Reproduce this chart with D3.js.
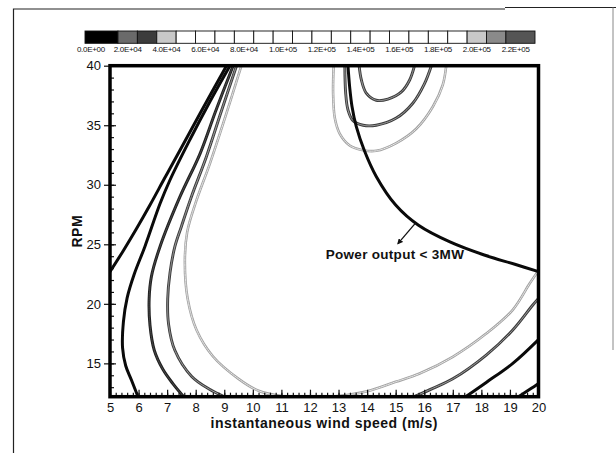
<!DOCTYPE html>
<html>
<head>
<meta charset="utf-8">
<script src="https://cdn.jsdelivr.net/npm/d3@7/dist/d3.min.js"></script>
<style>
  html, body { margin: 0; padding: 0; background: #fff; }
  svg { display: block; font-family: "Liberation Sans", Arial, sans-serif; }
</style>
</head>
<body>
<div id="chart"></div>
<script>
// ===========================
// Power contour map: RPM vs instantaneous wind speed
// ===========================

// axis ticks
const xTicks = [5, 6, 7, 8, 9, 10, 11, 12, 13, 14, 15, 16, 17, 18, 19, 20];
const yTicks = [15, 20, 25, 30, 35, 40];

// legend (colour bar)
const legendLabels = ['0.0E+00', '2.0E+04', '4.0E+04', '6.0E+04', '8.0E+04', '1.0E+05',
                      '1.2E+05', '1.4E+05', '1.6E+05', '1.8E+05', '2.0E+05', '2.2E+05'];
const legendLabelValues = [0, 2e4, 4e4, 6e4, 8e4, 1e5, 1.2e5, 1.4e5, 1.6e5, 1.8e5, 2e5, 2.2e5];
const legendBoxEdges = [-2e3, 1.5e4, 2.5e4, 3.5e4, 4.5e4, 5.5e4, 6.5e4, 7.5e4, 8.5e4, 9.5e4, 1.05e5,
                        1.15e5, 1.25e5, 1.35e5, 1.45e5, 1.55e5, 1.65e5, 1.75e5, 1.85e5, 1.95e5,
                        2.05e5, 2.15e5, 2.3e5];
const legendBoxFills = ['#000', '#6a6a6a', '#3c3c3c', '#c8c8c8', '#fff', '#fff', '#fff', '#fff',
                        '#fff', '#fff', '#fff', '#fff', '#fff', '#fff', '#fff', '#fff', '#fff',
                        '#fff', '#fff', '#c8c8c8', '#8a8a8a', '#555'];

// contour lines: [wind speed m/s, RPM]
const leftLine1 = [[9.08, 40], [8.2, 36.2], [7.45, 32.9], [6.9, 30.5], [6.4, 28.3], [5.9, 26.2], [5.45, 24.4], [5.0, 22.7]];
const leftLine2 = [[9.2, 40], [8.5, 37.0], [7.8, 33.8], [7.1, 30.4], [6.75, 28.4], [6.22, 24.8], [5.85, 22.5],
                   [5.6, 20.5], [5.47, 18.5], [5.44, 16.3], [5.55, 14.8], [5.75, 13.6], [5.98, 12.2]];
const leftLine3 = [[9.31, 40], [8.7, 36.2], [8.15, 32.6], [7.45, 29.0], [6.75, 24.8], [6.45, 22.3], [6.37, 20.4],
                   [6.4, 18.2], [6.55, 16.1], [6.85, 14.5], [7.2, 13.3], [7.58, 12.2]];
const leftLine4 = [[9.43, 40], [8.9, 36.2], [8.38, 32.4], [7.85, 29.0], [7.5, 26.5], [7.27, 24.8], [7.1, 22.6],
                   [7.02, 20.4], [7.05, 18.3], [7.27, 16.1], [7.86, 13.9], [8.5, 12.8], [9.0, 12.2]];
const leftLine5 = [[9.6, 40], [9.05, 35.8], [8.5, 31.8], [8.0, 28.5], [7.7, 26.0], [7.62, 23.5], [7.72, 20.4],
                   [8.03, 17.8], [8.6, 15.6], [9.5, 13.7], [10.2, 12.7], [11.0, 12.25], [12.0, 12.1],
                   [13.0, 12.25], [14.0, 12.65], [15.0, 13.45], [15.84, 14.15], [17.0, 15.55],
                   [18.17, 17.5], [19.1, 19.5], [19.69, 21.7], [20.0, 22.8]];
const rightLine1 = [[15.65, 12.2], [16.3, 12.9], [17.0, 13.7], [18.17, 15.7], [19.1, 17.8], [19.8, 19.9], [20.0, 20.45]];
const rightLine2 = [[17.45, 12.2], [18.17, 13.4], [19.1, 15.0], [20.0, 17.0]];
const rightLine3 = [[19.3, 12.2], [19.75, 12.9], [20.0, 13.3]];
const topLine1 = [[12.83, 40], [12.81, 37.7], [12.87, 35.6], [13.04, 34.3], [13.39, 33.3], [13.86, 32.9], [14.32, 32.85],
                  [15.02, 33.5], [15.72, 34.7], [16.3, 36.55], [16.65, 38.4], [16.77, 40]];
const topLine2 = [[13.22, 40], [13.25, 37.7], [13.33, 36.3], [13.5, 35.4], [13.86, 35.0], [14.32, 35.0],
                  [15.02, 35.6], [15.6, 36.85], [16.01, 38.5], [16.25, 40]];
const topLine3 = [[13.72, 40], [13.8, 38.8], [13.97, 37.7], [14.32, 37.1], [14.73, 37.2], [15.2, 37.8],
                  [15.49, 38.8], [15.66, 40]];
const powerLimit = [[13.33, 40], [13.39, 38.2], [13.47, 36.6], [13.62, 34.9], [13.9, 32.9], [14.32, 30.7],
                    [15.0, 28.3], [15.8, 26.6], [16.9, 25.2], [18.1, 24.1], [19.2, 23.3], [20.0, 22.7]];

// annotation
const arrowFrom = [15.7, 26.8];
const arrowTo = [15.08, 25.05];
const annotationAt = [12.55, 24.1];
const annotationText = 'Power output < 3MW';

const W = 616, H = 453;
const plot = { left: 110, right: 538.5, top: 65.7, bottom: 396.7 };

const svg = d3.select('#chart').append('svg')
    .attr('width', W)
    .attr('height', H);

svg.append('rect').attr('width', W).attr('height', H).attr('fill', '#fff');

// page frame (scan border)
svg.append('path')
    .attr('d', `M13.5,453 V9 H505 M505,7.5 H616`)
    .attr('fill', 'none')
    .attr('stroke', '#222')
    .attr('stroke-width', 1.2);
svg.append('path')
    .attr('d', `M613,7.5 V350`)
    .attr('fill', 'none')
    .attr('stroke', '#888')
    .attr('stroke-width', 1);

// ---- legend bar ----
const legendX = d3.scaleLinear()
    .domain([legendBoxEdges[0], legendBoxEdges[legendBoxEdges.length - 1]])
    .range([85, 535]);
const legendTop = 31, legendH = 12.3;

const boxes = legendBoxFills.map((fill, i) => ({ fill, x0: legendBoxEdges[i], x1: legendBoxEdges[i + 1] }));

svg.append('g').selectAll('rect')
    .data(boxes)
    .join('rect')
    .attr('x', d => legendX(d.x0))
    .attr('y', legendTop)
    .attr('width', d => legendX(d.x1) - legendX(d.x0))
    .attr('height', legendH)
    .attr('fill', d => d.fill)
    .attr('stroke', '#111')
    .attr('stroke-width', 0.9);

svg.append('g').selectAll('text')
    .data(legendLabels)
    .join('text')
    .attr('x', (d, i) => legendX(legendLabelValues[i]) + (i === 0 ? 2 : 0))
    .attr('y', 51.8)
    .attr('text-anchor', 'middle')
    .style('font-size', '8px')
    .style('letter-spacing', '-0.3px')
    .attr('fill', '#111')
    .text(d => d);

// ---- scales ----
const x = d3.scaleLinear().domain([5, 20]).range([plot.left, plot.right]);
const y = d3.scaleLinear().domain([12.2, 40]).range([plot.bottom, plot.top]);

svg.append('clipPath').attr('id', 'plot-clip')
    .append('rect')
    .attr('x', plot.left).attr('y', plot.top)
    .attr('width', plot.right - plot.left)
    .attr('height', plot.bottom - plot.top);

// ---- contour lines ----
const line = d3.line()
    .x(d => x(d[0]))
    .y(d => y(d[1]))
    .curve(d3.curveCatmullRom.alpha(0.5));

const styles = {
    black: [{ stroke: '#0a0a0a', width: 3 }],
    dark:  [{ stroke: '#202020', width: 3 }, { stroke: '#5a5a5a', width: 0.8, dash: '1,1' }],
    mid:   [{ stroke: '#3c3c3c', width: 2.9 }, { stroke: '#a0a0a0', width: 1, dash: '1.2,0.8' }],
    light: [{ stroke: '#a2a2a2', width: 2.6 }, { stroke: '#f0f0f0', width: 0.9, dash: '1.5,1' }]
};

const contours = [
    { pts: leftLine5, style: 'light' },
    { pts: topLine1, style: 'light' },
    { pts: leftLine4, style: 'mid' },
    { pts: rightLine1, style: 'mid' },
    { pts: topLine2, style: 'mid' },
    { pts: topLine3, style: 'mid' },
    { pts: leftLine3, style: 'dark' },
    { pts: leftLine2, style: 'black' },
    { pts: leftLine1, style: 'black' },
    { pts: rightLine2, style: 'black' },
    { pts: rightLine3, style: 'black' },
    { pts: powerLimit, style: 'black' }
];

const gLines = svg.append('g').attr('clip-path', 'url(#plot-clip)');
contours.forEach(c => {
    styles[c.style].forEach(s => {
        gLines.append('path')
            .attr('d', line(c.pts))
            .attr('fill', 'none')
            .attr('stroke', s.stroke)
            .attr('stroke-width', s.width)
            .attr('stroke-dasharray', s.dash || null)
            .attr('stroke-linecap', 'round')
            .attr('stroke-linejoin', 'round');
    });
});

// ---- annotation ----
svg.append('defs').append('marker')
    .attr('id', 'arrow-head')
    .attr('viewBox', '0 0 10 10')
    .attr('refX', 8).attr('refY', 5)
    .attr('markerWidth', 4.5).attr('markerHeight', 4.5)
    .attr('orient', 'auto')
    .append('path')
    .attr('d', 'M0,0 L10,5 L0,10 z')
    .attr('fill', '#111');

svg.append('line')
    .attr('x1', x(arrowFrom[0])).attr('y1', y(arrowFrom[1]))
    .attr('x2', x(arrowTo[0])).attr('y2', y(arrowTo[1]))
    .attr('stroke', '#111')
    .attr('stroke-width', 1.3)
    .attr('marker-end', 'url(#arrow-head)');

svg.append('text')
    .attr('x', x(annotationAt[0]))
    .attr('y', y(annotationAt[1]))
    .attr('dominant-baseline', 'middle')
    .style('font-size', '13.5px')
    .style('font-weight', 'bold')
    .style('letter-spacing', '0.3px')
    .attr('fill', '#111')
    .text(annotationText);

// ---- axes ----
const gx = svg.append('g').attr('transform', `translate(0,${plot.bottom})`);
gx.call(d3.axisBottom(x).tickValues(d3.range(5, 20.01, 0.2)).tickSize(-4).tickFormat(''));
gx.call(g => g.select('.domain').remove());
const gxMajor = svg.append('g').attr('transform', `translate(0,${plot.bottom})`)
    .call(d3.axisBottom(x).tickValues(xTicks).tickSizeInner(-7).tickSizeOuter(0).tickPadding(6).tickFormat(d3.format('d')));
gxMajor.select('.domain').remove();

const gy = svg.append('g').attr('transform', `translate(${plot.left},0)`);
gy.call(d3.axisLeft(y).tickValues(d3.range(13, 40.01, 1)).tickSize(-4).tickFormat(''));
gy.call(g => g.select('.domain').remove());
const gyMajor = svg.append('g').attr('transform', `translate(${plot.left},0)`)
    .call(d3.axisLeft(y).tickValues(yTicks).tickSizeInner(6).tickSizeOuter(0).tickPadding(3).tickFormat(d3.format('d')));
gyMajor.select('.domain').remove();
// major y ticks reach across the frame into the plot
gyMajor.selectAll('.tick line').attr('x1', 6).attr('x2', -6);

svg.selectAll('.tick line').attr('stroke', '#111').attr('stroke-width', 1.2);
svg.selectAll('.tick text')
    .attr('fill', '#111')
    .style('font-size', '13px')
    .style('font-family', '"Liberation Sans", Arial, sans-serif');

// plot frame
svg.append('rect')
    .attr('x', plot.left).attr('y', plot.top)
    .attr('width', plot.right - plot.left)
    .attr('height', plot.bottom - plot.top)
    .attr('fill', 'none')
    .attr('stroke', '#000')
    .attr('stroke-width', 3.5);

// axis titles
svg.append('text')
    .attr('x', (plot.left + plot.right) / 2)
    .attr('y', 424)
    .attr('text-anchor', 'middle')
    .attr('dominant-baseline', 'middle')
    .style('font-size', '14px')
    .style('font-weight', 'bold')
    .style('letter-spacing', '0.5px')
    .attr('fill', '#111')
    .text('instantaneous wind speed (m/s)');

svg.append('text')
    .attr('transform', `translate(78,${(plot.top + plot.bottom) / 2}) rotate(-90)`)
    .attr('text-anchor', 'middle')
    .attr('dominant-baseline', 'middle')
    .style('font-size', '14px')
    .style('font-weight', 'bold')
    .style('letter-spacing', '0.5px')
    .attr('fill', '#111')
    .text('RPM');
</script>
</body>
</html>
